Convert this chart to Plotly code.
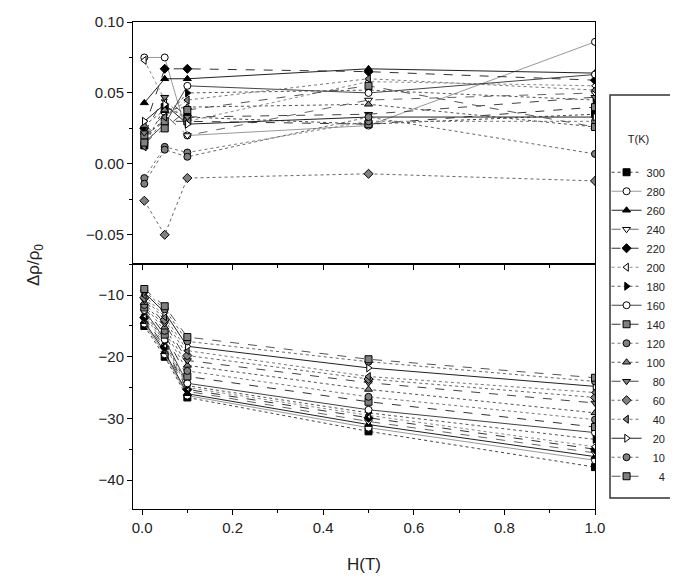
import plotly.graph_objects as go

# ---------------- data ----------------
H = [0.005, 0.05, 0.1, 0.5, 1.0]
temps = ["300", "280", "260", "240", "220", "200", "180", "160", "140",
         "120", "100", "80", "60", "40", "20", "10", "4"]

top_vals = [
    [0.013, 0.040, 0.033, 0.028, 0.035],   # 300
    [0.075, 0.075, 0.020, 0.027, 0.086],   # 280
    [0.043, 0.060, 0.060, 0.067, 0.064],   # 260
    [0.020, 0.035, 0.020, 0.045, 0.050],   # 240
    [0.025, 0.067, 0.067, 0.065, 0.059],   # 220
    [0.073, 0.045, 0.030, 0.058, 0.055],   # 200
    [0.018, 0.032, 0.050, 0.052, 0.045],   # 180
    [0.015, 0.028, 0.055, 0.050, 0.063],   # 160
    [0.020, 0.030, 0.030, 0.028, 0.040],   # 140
    [-0.010, 0.012, 0.008, 0.030, 0.030],  # 120
    [0.027, 0.038, 0.040, 0.042, 0.026],   # 100
    [0.022, 0.047, 0.033, 0.035, 0.047],   # 80
    [-0.026, -0.050, -0.010, -0.007, -0.012],  # 60
    [0.012, 0.033, 0.045, 0.060, 0.052],   # 40
    [0.030, 0.042, 0.028, 0.033, 0.033],   # 20
    [-0.014, 0.010, 0.005, 0.033, 0.007],  # 10
    [0.015, 0.025, 0.038, 0.055, 0.026],   # 4
]

bottom_vals = [
    [-15.0, -20.0, -26.6, -32.1, -37.9],   # 300
    [-14.6, -19.6, -26.3, -31.5, -36.8],   # 280
    [-14.3, -19.2, -26.0, -31.0, -36.2],   # 260
    [-14.0, -18.8, -25.6, -30.5, -35.6],   # 240
    [-13.6, -18.4, -25.3, -29.9, -35.0],   # 220
    [-13.2, -18.0, -25.0, -29.5, -34.6],   # 200
    [-12.8, -17.6, -24.7, -29.1, -33.4],   # 180
    [-12.4, -17.2, -24.3, -28.6, -32.3],   # 160
    [-12.0, -16.4, -23.2, -27.3, -31.4],   # 140
    [-11.6, -15.8, -22.3, -26.5, -30.2],   # 120
    [-11.2, -15.2, -21.4, -25.3, -29.1],   # 100
    [-10.8, -14.6, -20.6, -24.2, -27.5],   # 80
    [-10.4, -14.0, -19.8, -23.6, -26.6],   # 60
    [-10.0, -13.5, -19.0, -23.2, -25.8],   # 40
    [-9.6, -12.8, -18.3, -21.8, -24.8],    # 20
    [-9.3, -12.3, -17.5, -20.8, -24.0],    # 10
    [-9.0, -11.8, -16.8, -20.4, -23.4],    # 4
]

# ---------------- styles ----------------
symbols = ["square", "circle", "triangle-up", "triangle-down", "diamond",
           "triangle-left", "triangle-right", "circle", "square", "circle",
           "triangle-up", "triangle-down", "diamond", "triangle-left",
           "triangle-right", "circle", "square"]
fills = ["black", "white", "black", "white", "black", "white", "black", "white",
         "#808080", "#808080", "#808080", "#808080", "#808080", "#808080",
         "white", "#808080", "#808080"]
dashes = ["dot", "solid", "solid", "dash", "dash", "dot", "dot", "solid", "dash",
          "dot", "dot", "dash", "dot", "dot", "solid", "dot", "dash"]
lcolors = ["#444444", "#999999", "#222222", "#666666", "#333333", "#888888",
           "#555555", "#444444", "#333333", "#777777", "#555555", "#444444",
           "#666666", "#777777", "#222222", "#666666", "#555555"]

FONT = "Liberation Sans, Arial, sans-serif"

fig = go.Figure()

for i, t in enumerate(temps):
    name = t.rjust(3, "\u2007")
    common = dict(
        mode="lines+markers",
        legendgroup=t,
        line=dict(color=lcolors[i], width=1, dash=dashes[i]),
        marker=dict(symbol=symbols[i], size=7, color=fills[i],
                    line=dict(color="black", width=1)),
    )
    fig.add_trace(go.Scatter(x=H, y=top_vals[i], name=name, showlegend=True,
                             xaxis="x", yaxis="y", **common))
    fig.add_trace(go.Scatter(x=H, y=bottom_vals[i], name=name, showlegend=False,
                             xaxis="x2", yaxis="y2", **common))

axis_common = dict(showgrid=False, zeroline=False, showline=True, linecolor="black",
                   linewidth=1, mirror=True, ticks="outside", ticklen=5,
                   tickcolor="black", tickfont=dict(family=FONT, size=15, color="#222"))

split = 0.503
fig.update_layout(
    width=678, height=579,
    paper_bgcolor="white", plot_bgcolor="white",
    margin=dict(l=125, r=91, t=14, b=78, autoexpand=False),
    font=dict(family=FONT, color="#222"),
    xaxis=dict(domain=[0, 1], range=[-0.02, 1.0], anchor="y", showticklabels=False,
               dtick=0.2, minor=dict(ticks="outside", ticklen=3, dtick=0.1, tickcolor="black"),
               **axis_common),
    yaxis=dict(domain=[split, 1], range=[-0.0706, 0.1], anchor="x", dtick=0.05,
               tickformat=".2f",
               minor=dict(ticks="outside", ticklen=3, dtick=0.025, tickcolor="black"),
               **axis_common),
    xaxis2=dict(domain=[0, 1], range=[-0.02, 1.0], anchor="y2", dtick=0.2,
                tickformat=".1f",
                minor=dict(ticks="outside", ticklen=3, dtick=0.1, tickcolor="black"),
                title=dict(text="H(T)", font=dict(family=FONT, size=17, color="#222"),
                           standoff=23),
                **axis_common),
    yaxis2=dict(domain=[0, split], range=[-44.7, -4.95], anchor="x2", dtick=10,
                minor=dict(ticks="outside", ticklen=3, dtick=5, tickcolor="black"),
                **axis_common),
    legend=dict(x=1.025, xanchor="left", y=0.78, yanchor="top",
                bgcolor="rgba(0,0,0,0)", borderwidth=0,
                font=dict(family=FONT, size=11, color="#222"),
                title=dict(text="T(K)<br> ", side="top center",
                           font=dict(family=FONT, size=11, color="#222")),
                itemwidth=30, tracegroupgap=0),
    annotations=[dict(text="Δρ/ρ<sub>0</sub>", textangle=-90, xref="paper", yref="paper",
                      x=-0.212, y=0.501, xanchor="center", yanchor="middle",
                      showarrow=False,
                      font=dict(family=FONT, size=17, color="#222"))],
    shapes=[dict(type="rect", xref="paper", yref="paper",
                 x0=1.0325, x1=1.2, y0=0.0226, y1=0.85,
                 line=dict(color="#333", width=1.5), fillcolor="rgba(0,0,0,0)",
                 layer="below")],
)

fig.write_html("out.html")
